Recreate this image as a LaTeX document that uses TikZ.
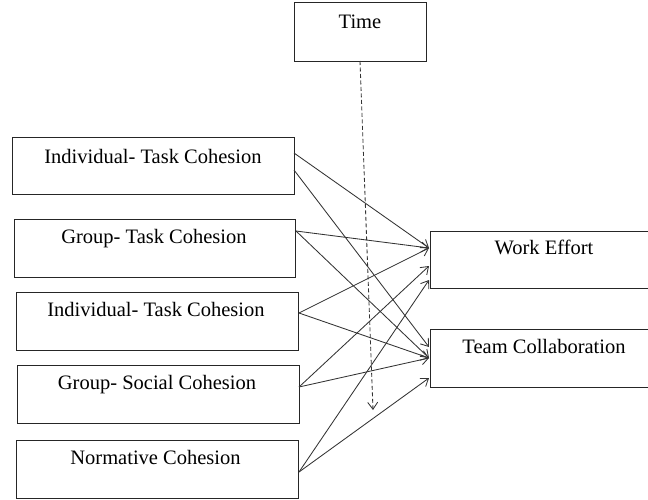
\documentclass[tikz,border=0pt]{standalone}
\usepackage{fontspec}
\setmainfont{Liberation Serif}
\usetikzlibrary{arrows.meta}
\begin{document}
\begin{tikzpicture}[x=1pt,y=-1pt,
  box/.style={draw=black!85, line width=1pt, rectangle, anchor=north west, inner sep=0pt},
  lbl/.style={anchor=base, inner sep=0pt, font=\fontsize{20.5}{24}\selectfont},
  conn/.style={draw=black!80, line width=0.85pt, -{Straight Barb[length=7pt,width=10pt]}},
  dconn/.style={conn, dash pattern=on 4pt off 2.5pt}]
\useasboundingbox (0,0) rectangle (648,499);
\clip (0,0) rectangle (648,499);
% boxes
\node[box, minimum width=132pt, minimum height=59pt] (time) at (294,1.5) {};
\node[box, minimum width=282pt, minimum height=57pt] (b1) at (12,137) {};
\node[box, minimum width=281pt, minimum height=58pt] (b2) at (14,219) {};
\node[box, minimum width=282pt, minimum height=58pt] (b3) at (16,292) {};
\node[box, minimum width=282pt, minimum height=58pt] (b4) at (17,365) {};
\node[box, minimum width=282pt, minimum height=58pt] (b5) at (16,440) {};
\node[box, minimum width=230pt, minimum height=57pt] (we) at (430,231) {};
\node[box, minimum width=230pt, minimum height=58pt] (tc) at (430,329) {};
% labels
\node[lbl] (ttime) at (360,28) {Time};
\node[lbl] (t1) at (153,163) {Individual- Task Cohesion};
\node[lbl] (t2) at (154,243) {Group- Task Cohesion};
\node[lbl] (t3) at (156,316) {Individual- Task Cohesion};
\node[lbl] (t4) at (157,389) {Group- Social Cohesion};
\node[lbl] (t5) at (155.5,464) {Normative Cohesion};
\node[lbl] (twe) at (544,254) {Work Effort};
\node[lbl] (ttc) at (544,353) {Team Collaboration};
% connector end points
\coordinate (s1a) at (294,153);
\coordinate (s1b) at (294,170);
\coordinate (s2) at (296,231);
\coordinate (s3) at (299,313);
\coordinate (s4) at (299,387);
\coordinate (s5) at (299,472);
\coordinate (we1) at (429,248);
\coordinate (we2) at (429,266);
\coordinate (we3) at (429,280);
\coordinate (tc1) at (429,347);
\coordinate (tc2) at (429,358);
\coordinate (tc3) at (429,378);
\coordinate (tstart) at (360,61);
\coordinate (tend) at (373,410);
% connectors
\draw[conn] (s1a) -- (we1);
\draw[conn] (s1b) -- (tc1);
\draw[conn] (s2) -- (we1);
\draw[conn] (s2) -- (tc2);
\draw[conn] (s3) -- (we1);
\draw[conn] (s3) -- (tc2);
\draw[conn] (s4) -- (we2);
\draw[conn] (s4) -- (tc2);
\draw[conn] (s5) -- (we3);
\draw[conn] (s5) -- (tc3);
\draw[dconn] (tstart) -- (tend);
\end{tikzpicture}
\end{document}
